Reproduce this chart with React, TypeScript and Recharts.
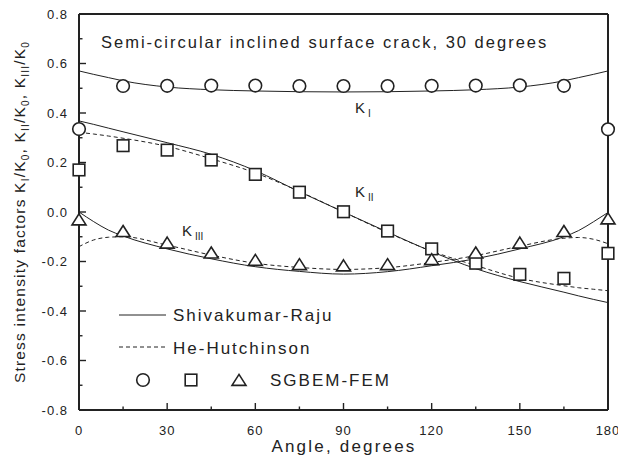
import React from 'react';
import { ComposedChart, Line, Scatter, XAxis, YAxis } from 'recharts';

// angles (degrees) where the curves were sampled
const curveAngles = [0, 5, 10, 15, 30, 45, 60, 75, 90, 105, 120, 135, 150, 165, 170, 175, 180];
// Shivakumar-Raju (solid)
const kISR = [0.57, 0.556, 0.543, 0.53, 0.505, 0.494, 0.489, 0.486, 0.485, 0.486, 0.489, 0.494, 0.505, 0.53, 0.543, 0.556, 0.57];
const kIISR = [0.368, 0.354, 0.339, 0.324, 0.28, 0.233, 0.167, 0.082, 0.0, -0.081, -0.16, -0.229, -0.281, -0.324, -0.339, -0.353, -0.366];
const kIIISR = [0.0, -0.039, -0.073, -0.097, -0.149, -0.189, -0.221, -0.24, -0.251, -0.241, -0.217, -0.189, -0.149, -0.1, -0.075, -0.04, -0.002];
// He-Hutchinson (dashed)
const kIIHH = [0.322, 0.315, 0.307, 0.298, 0.265, 0.215, 0.158, 0.083, 0.0, -0.083, -0.158, -0.216, -0.268, -0.298, -0.306, -0.312, -0.318];
const kIIIHH = [-0.14, -0.113, -0.102, -0.1, -0.134, -0.174, -0.207, -0.224, -0.232, -0.225, -0.204, -0.176, -0.138, -0.106, -0.103, -0.11, -0.128];

// SGBEM-FEM results
const bemAngles = [0, 15, 30, 45, 60, 75, 90, 105, 120, 135, 150, 165, 180];
const kIBem = [0.335, 0.509, 0.51, 0.511, 0.511, 0.509, 0.509, 0.509, 0.51, 0.511, 0.512, 0.51, 0.334];
const kIIBem = [0.17, 0.268, 0.25, 0.21, 0.152, 0.08, 0.001, -0.077, -0.149, -0.207, -0.252, -0.268, -0.167];
const kIIIBem = [-0.03, -0.077, -0.124, -0.164, -0.194, -0.211, -0.216, -0.211, -0.191, -0.164, -0.124, -0.077, -0.026];

const xTicks = [0, 15, 30, 45, 60, 75, 90, 105, 120, 135, 150, 165, 180];
const yTicks = [-0.8, -0.7, -0.6, -0.5, -0.4, -0.3, -0.2, -0.1, 0, 0.1, 0.2, 0.3, 0.4, 0.5, 0.6, 0.7, 0.8];

const FONT = '"Liberation Sans", Arial, sans-serif';
const INK = '#222';

const pts = (xs: number[], ys: number[]) => xs.map((angle, i) => ({ angle, v: ys[i] }));

const CircleMark = ({ cx, cy }: any) => (
  <circle cx={cx} cy={cy} r={6.3} fill="#fff" stroke={INK} strokeWidth={1.6} />
);
const SquareMark = ({ cx, cy }: any) => (
  <rect x={cx - 5.8} y={cy - 5.8} width={11.6} height={11.6} fill="#fff" stroke={INK} strokeWidth={1.6} />
);
const TriangleMark = ({ cx, cy }: any) => (
  <path d={`M${cx},${cy - 5.6} L${cx + 7},${cy + 5.4} L${cx - 7},${cy + 5.4} Z`} fill="#fff" stroke={INK} strokeWidth={1.6} strokeLinejoin="miter" />
);

// inward ticks on all four sides, labels only on bottom/left majors
const makeTick = (side: 'bottom' | 'top' | 'left' | 'right') => (props: any) => {
  const { x, y, payload } = props;
  const v = payload.value as number;
  const horizontal = side === 'bottom' || side === 'top';
  const major = horizontal ? v % 30 === 0 : Math.abs(Math.round(v * 10)) % 2 === 0;
  const len = major ? 7 : 3.5;
  const txt = { fontFamily: FONT, fontSize: 13, fill: INK, letterSpacing: 1 };
  if (side === 'bottom') {
    return (
      <g>
        <line x1={x} y1={y} x2={x} y2={y - len} stroke={INK} strokeWidth={1.4} />
        {major && <text x={x} y={y + 24.5} textAnchor="middle" style={txt}>{v}</text>}
      </g>
    );
  }
  if (side === 'top') {
    return <line x1={x} y1={y} x2={x} y2={y + len} stroke={INK} strokeWidth={1.4} />;
  }
  if (side === 'left') {
    return (
      <g>
        <line x1={x} y1={y} x2={x + len} y2={y} stroke={INK} strokeWidth={1.4} />
        {major && <text x={x - 11} y={y + 4.5} textAnchor="end" style={txt}>{v.toFixed(1)}</text>}
      </g>
    );
  }
  return <line x1={x} y1={y} x2={x - len} y2={y} stroke={INK} strokeWidth={1.4} />;
};

const axisLine = { stroke: INK, strokeWidth: 2 };

export default function App() {
  const text = { fontFamily: FONT, fill: INK };
  return (
    <div style={{ position: 'absolute', left: 0, top: 0, width: 618, height: 459, background: '#fff' }}>
      <ComposedChart width={618} height={459} margin={{ top: 13, right: 9, bottom: 9, left: 19 }}>
        <XAxis xAxisId="b" dataKey="angle" type="number" domain={[0, 180]} ticks={xTicks} interval={0}
          height={40} axisLine={axisLine} tickLine={false} tickSize={0} tickMargin={0} tick={makeTick('bottom')} />
        <XAxis xAxisId="t" orientation="top" type="number" domain={[0, 180]} ticks={xTicks} interval={0}
          height={1} axisLine={axisLine} tickLine={false} tickSize={0} tickMargin={0} tick={makeTick('top')} />
        <YAxis yAxisId="l" type="number" domain={[-0.8, 0.8]} ticks={yTicks} interval={0}
          width={60} axisLine={axisLine} tickLine={false} tickSize={0} tickMargin={0} tick={makeTick('left')} />
        <YAxis yAxisId="r" orientation="right" type="number" domain={[-0.8, 0.8]} ticks={yTicks} interval={0}
          width={1} axisLine={axisLine} tickLine={false} tickSize={0} tickMargin={0} tick={makeTick('right')} />

        <Line xAxisId="b" yAxisId="l" data={pts(curveAngles, kISR)} dataKey="v" type="monotone" stroke={INK} strokeWidth={1} dot={false} isAnimationActive={false} />
        <Line xAxisId="b" yAxisId="l" data={pts(curveAngles, kIISR)} dataKey="v" type="monotone" stroke={INK} strokeWidth={1} dot={false} isAnimationActive={false} />
        <Line xAxisId="b" yAxisId="l" data={pts(curveAngles, kIIISR)} dataKey="v" type="monotone" stroke={INK} strokeWidth={1} dot={false} isAnimationActive={false} />
        <Line xAxisId="b" yAxisId="l" data={pts(curveAngles, kIIHH)} dataKey="v" type="monotone" stroke={INK} strokeWidth={1} strokeDasharray="4 3" dot={false} isAnimationActive={false} />
        <Line xAxisId="b" yAxisId="l" data={pts(curveAngles, kIIIHH)} dataKey="v" type="monotone" stroke={INK} strokeWidth={1} strokeDasharray="4 3" dot={false} isAnimationActive={false} />

        <Scatter xAxisId="b" yAxisId="l" data={pts(bemAngles, kIBem)} dataKey="v" shape={CircleMark} isAnimationActive={false} />
        <Scatter xAxisId="b" yAxisId="l" data={pts(bemAngles, kIIBem)} dataKey="v" shape={SquareMark} isAnimationActive={false} />
        <Scatter xAxisId="b" yAxisId="l" data={pts(bemAngles, kIIIBem)} dataKey="v" shape={TriangleMark} isAnimationActive={false} />

        {/* titles */}
        <text x={101} y={48} fontSize={16.5} letterSpacing={2} style={text}>Semi-circular inclined surface crack, 30 degrees</text>
        <text x={344} y={452} fontSize={17} letterSpacing={2.2} textAnchor="middle" style={text}>Angle, degrees</text>
        <text transform="translate(25,212) rotate(-90)" textAnchor="middle" fontSize={15.5} letterSpacing={1.2} style={text}>
          Stress intensity factors K<tspan fontSize={10} dy={4}>I</tspan>
          <tspan dy={-4}>/K</tspan><tspan fontSize={10} dy={4}>0</tspan>
          <tspan dy={-4}>, K</tspan><tspan fontSize={10} dy={4}>II</tspan>
          <tspan dy={-4}>/K</tspan><tspan fontSize={10} dy={4}>0</tspan>
          <tspan dy={-4}>, K</tspan><tspan fontSize={10} dy={4}>III</tspan>
          <tspan dy={-4}>/K</tspan><tspan fontSize={10} dy={4}>0</tspan>
        </text>

        {/* curve labels */}
        <text x={355} y={113} fontSize={15} style={text}>K<tspan fontSize={10} dx={3} dy={4}>I</tspan></text>
        <text x={355} y={197} fontSize={15} style={text}>K<tspan fontSize={10} dx={3} dy={4}>II</tspan></text>
        <text x={182} y={236} fontSize={15} style={text}>K<tspan fontSize={10} dx={3} dy={4}>III</tspan></text>

        {/* legend */}
        <line x1={119} y1={315} x2={166} y2={315} stroke={INK} strokeWidth={1} />
        <text x={173} y={321} fontSize={17} letterSpacing={2} style={text}>Shivakumar-Raju</text>
        <line x1={119} y1={347} x2={166} y2={347} stroke={INK} strokeWidth={1} strokeDasharray="4 3" />
        <text x={173} y={354} fontSize={17} letterSpacing={2} style={text}>He-Hutchinson</text>
        <CircleMark cx={143} cy={380} />
        <SquareMark cx={191} cy={380} />
        <TriangleMark cx={239} cy={380} />
        <text x={270} y={386} fontSize={17} letterSpacing={2} style={text}>SGBEM-FEM</text>
      </ComposedChart>
    </div>
  );
}
